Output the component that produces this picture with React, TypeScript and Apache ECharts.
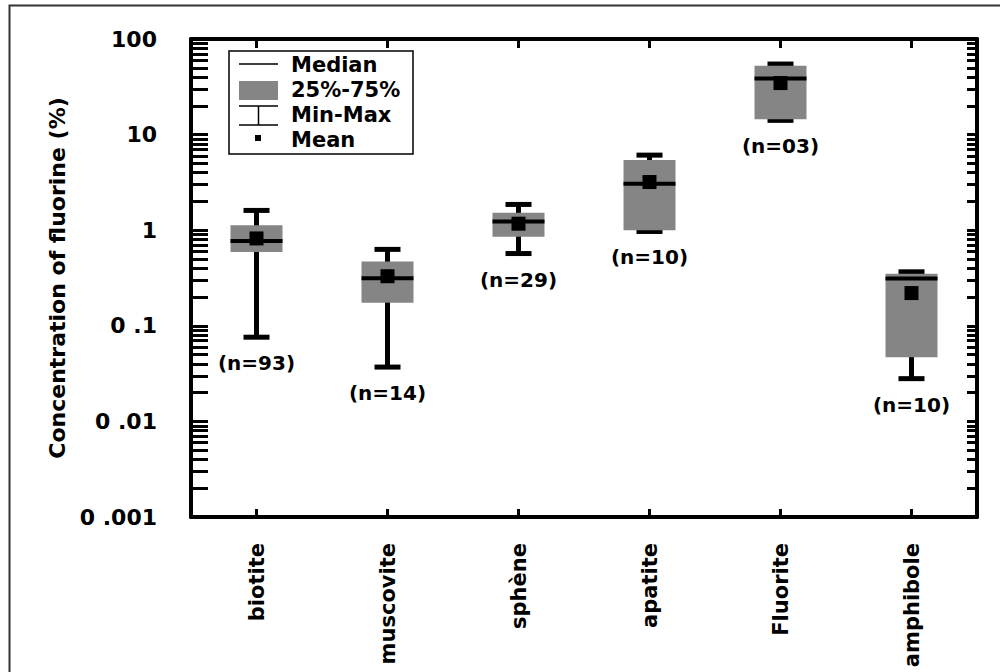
import React, { useEffect, useRef } from "react";
import * as echarts from "echarts";

const categories = ["biotite", "muscovite", "sphène", "apatite", "Fluorite", "amphibole"];
const mins = [0.076, 0.037, 0.57, 0.97, 14.1, 0.028];
const q1s = [0.59, 0.174, 0.855, 1.0, 14.5, 0.047];
const medians = [0.77, 0.315, 1.23, 3.07, 38.7, 0.313];
const q3s = [1.13, 0.47, 1.52, 5.43, 52.5, 0.35];
const maxs = [1.61, 0.63, 1.86, 6.1, 54.7, 0.367];
const means = [0.82, 0.33, 1.17, 3.19, 34.6, 0.22];
const nLabels = ["(n=93)", "(n=14)", "(n=29)", "(n=10)", "(n=03)", "(n=10)"];
const yTickValues = [100, 10, 1, 0.1, 0.01, 0.001];
const yTickLabels = ["100", "10", "1", "0 .1", "0 .01", "0 .001"];
const legendItems = ["Median", "25%-75%", "Min-Max", "Mean"];

const FONT = '"DejaVu Sans", "Liberation Sans", Arial, sans-serif';
const GREY = "#858585";

export default function App() {
  const ref = useRef<HTMLDivElement>(null);
  useEffect(() => {
    if (!ref.current) return;
    const chart = echarts.init(ref.current, null, { renderer: "svg" });
    const data = categories.map((_, i) => [i, mins[i], q1s[i], medians[i], q3s[i], maxs[i], means[i]]);

    const renderItem = (params: any, api: any) => {
      const i = api.value(0);
      const x = api.coord([i, 1])[0];
      const yMin = api.coord([i, api.value(1)])[1];
      const yQ1 = api.coord([i, api.value(2)])[1];
      const yMed = api.coord([i, api.value(3)])[1];
      const yQ3 = api.coord([i, api.value(4)])[1];
      const yMax = api.coord([i, api.value(5)])[1];
      const yMean = api.coord([i, api.value(6)])[1];
      const bw = 52;
      const cap = 13;
      const ms = 14;
      const black = { stroke: "#000", lineWidth: 5 };
      return {
        type: "group",
        children: [
          { type: "line", shape: { x1: x, y1: yMax, x2: x, y2: yMin }, style: black },
          { type: "line", shape: { x1: x - cap, y1: yMax, x2: x + cap, y2: yMax }, style: black },
          { type: "line", shape: { x1: x - cap, y1: yMin, x2: x + cap, y2: yMin }, style: black },
          { type: "rect", shape: { x: x - bw / 2, y: yQ3, width: bw, height: yQ1 - yQ3 }, style: { fill: GREY } },
          { type: "line", shape: { x1: x - bw / 2, y1: yMed, x2: x + bw / 2, y2: yMed }, style: { stroke: "#000", lineWidth: 4 } },
          { type: "rect", shape: { x: x - ms / 2, y: yMean - ms / 2, width: ms, height: ms }, style: { fill: "#000" } },
          {
            type: "text",
            x: x,
            y: yMin + 26,
            style: {
              text: nLabels[i],
              font: `bold 20px ${FONT}`,
              fill: "#000",
              align: "center",
              textAlign: "center",
              verticalAlign: "middle",
              textVerticalAlign: "middle",
            },
          },
        ],
      };
    };

    const axisLineStyle = { show: true, onZero: false, lineStyle: { color: "#000", width: 4 } };
    const lx = 239, rx = 278;
    const legendFont = `bold 21px ${FONT}`;
    const rowY = [65, 90, 115, 140];

    chart.setOption({
      animation: false,
      backgroundColor: "#fff",
      grid: { left: 191, right: 23, top: 39, bottom: 155, containLabel: false },
      xAxis: [
        {
          type: "category",
          data: categories,
          position: "bottom",
          axisLine: axisLineStyle,
          axisTick: { show: true, inside: true, alignWithLabel: true, length: 8, lineStyle: { color: "#000", width: 3 } },
          axisLabel: { rotate: 90, margin: 26, fontSize: 21, fontWeight: "bold", fontFamily: FONT, color: "#000" },
          splitLine: { show: false },
        },
        {
          type: "category",
          data: categories,
          position: "top",
          axisLine: axisLineStyle,
          axisTick: { show: true, inside: true, alignWithLabel: true, length: 9, lineStyle: { color: "#000", width: 3 } },
          axisLabel: { show: false },
          splitLine: { show: false },
        },
      ],
      yAxis: [
        {
          type: "log",
          logBase: 10,
          min: 0.001,
          max: 100,
          position: "left",
          axisLine: axisLineStyle,
          axisTick: { show: true, inside: true, length: 17, lineStyle: { color: "#000", width: 3 } },
          minorTick: { show: true, splitNumber: 9, length: 17, lineStyle: { color: "#000", width: 3 } },
          splitLine: { show: false },
          axisLabel: {
            margin: 34,
            fontSize: 22,
            fontWeight: "bold",
            fontFamily: FONT,
            color: "#000",
            formatter: (v: number) => {
              const k = yTickValues.findIndex((t) => Math.abs(Math.log10(t) - Math.log10(v)) < 1e-6);
              return k >= 0 ? yTickLabels[k] : "";
            },
          },
          name: "Concentration of fluorine (%)",
          nameLocation: "middle",
          nameGap: 112,
          nameTextStyle: { fontSize: 22, fontWeight: "bold", fontFamily: FONT, color: "#000" },
        },
        {
          type: "log",
          logBase: 10,
          min: 0.001,
          max: 100,
          position: "right",
          axisLine: axisLineStyle,
          axisTick: { show: true, inside: true, length: 10, lineStyle: { color: "#000", width: 3 } },
          minorTick: { show: true, splitNumber: 9, length: 10, lineStyle: { color: "#000", width: 3 } },
          splitLine: { show: false },
          axisLabel: { show: false },
        },
      ],
      series: [
        {
          type: "custom",
          xAxisIndex: 0,
          yAxisIndex: 0,
          renderItem,
          encode: { x: 0, y: [1, 2, 3, 4, 5, 6] },
          data,
          z: 5,
        },
      ],
      graphic: [
        { type: "rect", left: 7, top: 3, shape: { width: 1000, height: 700 }, style: { fill: "none", stroke: "#333", lineWidth: 2 }, silent: true },
        { type: "rect", shape: { x: 229, y: 51, width: 184, height: 103 }, style: { fill: "#fff", stroke: "#000", lineWidth: 1.5 }, z: 10 },
        { type: "line", shape: { x1: lx, y1: 64, x2: rx, y2: 64 }, style: { stroke: "#000", lineWidth: 1.5 }, z: 11 },
        { type: "rect", shape: { x: lx, y: 81, width: rx - lx, height: 19 }, style: { fill: GREY }, z: 11 },
        { type: "line", shape: { x1: lx, y1: 106, x2: rx, y2: 106 }, style: { stroke: "#000", lineWidth: 1.5 }, z: 11 },
        { type: "line", shape: { x1: lx, y1: 125, x2: rx, y2: 125 }, style: { stroke: "#000", lineWidth: 1.5 }, z: 11 },
        { type: "line", shape: { x1: 258.5, y1: 106, x2: 258.5, y2: 125 }, style: { stroke: "#000", lineWidth: 1.5 }, z: 11 },
        { type: "rect", shape: { x: 255, y: 135, width: 6, height: 6 }, style: { fill: "#000" }, z: 11 },
        ...legendItems.map((t, k) => ({
          type: "text",
          x: 291,
          y: rowY[k],
          z: 11,
          style: {
            text: t,
            font: legendFont,
            fill: "#000",
            align: "left",
            textAlign: "left",
            verticalAlign: "middle",
            textVerticalAlign: "middle",
          },
        })),
      ],
    });
    return () => chart.dispose();
  }, []);
  return <div ref={ref} style={{ position: "fixed", left: 0, top: 0, width: 1000, height: 672 }} />;
}
